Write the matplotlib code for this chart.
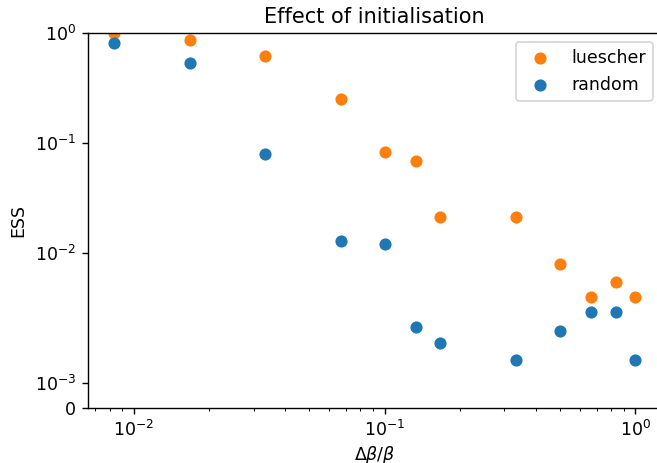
import numpy as np
import matplotlib
matplotlib.use("Agg")
import matplotlib.pyplot as plt

# Relative step sizes
dbeta_over_beta = [1/120, 1/60, 1/30, 1/15, 1/10, 2/15, 1/6, 1/3, 1/2, 2/3, 5/6, 1.0]

# Effective sample size for each initialisation
ess_luescher = [1.0, 0.877, 0.622, 0.252, 0.0836, 0.0692, 0.0213, 0.0213,
                0.00789, 0.00456, 0.0054, 0.00453]
ess_random = [0.822, 0.541, 0.0789, 0.0129, 0.0120, 0.00333, 0.00264, 0.00195,
              0.00315, 0.00392, 0.00392, 0.00195]

y_ticks = [0, 1e-3, 1e-2, 1e-1, 1e0]

W, H, DPI = 657, 463, 125
fig = plt.figure(figsize=(W / DPI, H / DPI), dpi=DPI)
ax = fig.add_axes([88 / W, (H - 407.7) / H, (661.5 - 88) / W, (407.7 - 33.3) / H])

ax.scatter(dbeta_over_beta, ess_luescher, color="C1", label="luescher")
ax.scatter(dbeta_over_beta, ess_random, color="C0", label="random")

ax.set_xscale("log")
ax.set_yscale("symlog", linthresh=0.005)
ax.set_ylim(0, 1)
ax.set_yticks(y_ticks)

ax.set_title("Effect of initialisation")
ax.set_xlabel(r"$\Delta\beta/\beta$", labelpad=2.5)
ax.set_ylabel("ESS")
ax.legend(loc="upper right")

fig.savefig("out.png", dpi=DPI)
